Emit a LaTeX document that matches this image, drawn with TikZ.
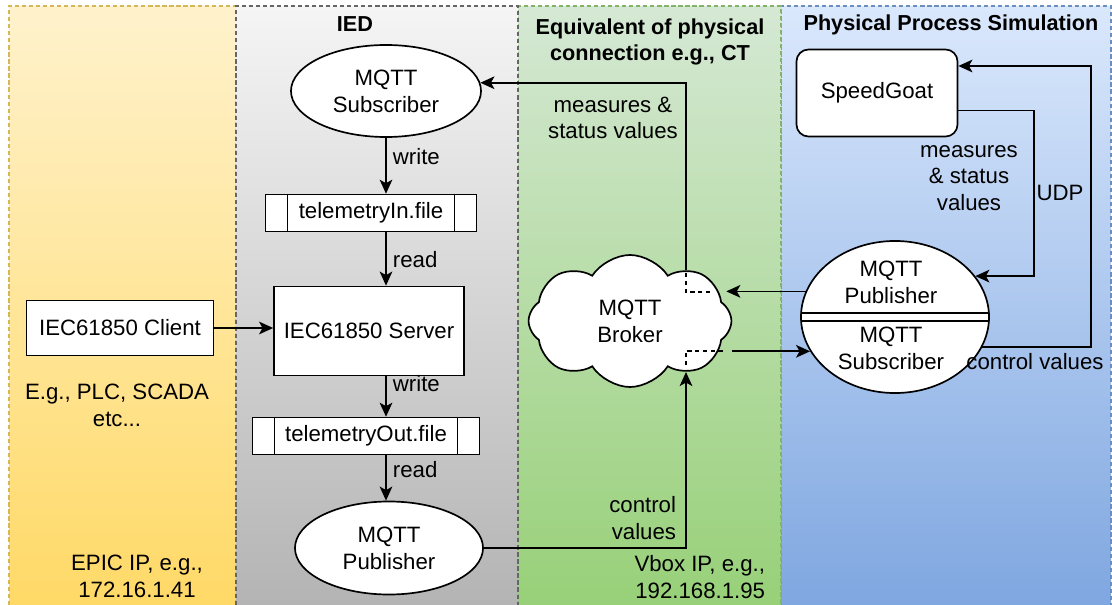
\documentclass[tikz,border=0pt]{standalone}
\usepackage{fontspec}
\setmainfont{Liberation Sans}
\usetikzlibrary{shapes.geometric,shapes.symbols,arrows.meta}
\definecolor{yelT}{HTML}{FFF2CC}
\definecolor{yelB}{HTML}{FFD966}
\definecolor{yelD}{HTML}{D6B656}
\definecolor{gryT}{HTML}{F5F5F5}
\definecolor{gryB}{HTML}{B3B3B3}
\definecolor{gryD}{HTML}{666666}
\definecolor{grnT}{HTML}{D5E8D4}
\definecolor{grnB}{HTML}{97D077}
\definecolor{grnD}{HTML}{82B366}
\definecolor{bluT}{HTML}{DAE8FC}
\definecolor{bluB}{HTML}{7EA6E0}
\definecolor{bluD}{HTML}{6C8EBF}

\begin{document}
\begin{tikzpicture}[x=0.025cm,y=-0.025cm,font=\fontsize{15.8}{19}\selectfont,
  hdr/.style={font=\fontsize{15.4}{19}\selectfont\bfseries,align=center},
  box/.style={draw,fill=white,line width=1.2pt,align=center},
  oval/.style={box,ellipse,inner sep=0pt},
  filebox/.style={box,inner sep=0pt,minimum height=0.92cm,path picture={
    \draw[line width=1.2pt] ([xshift=0.55cm]path picture bounding box.north west) -- ([xshift=0.55cm]path picture bounding box.south west)
      ([xshift=-0.55cm]path picture bounding box.north east) -- ([xshift=-0.55cm]path picture bounding box.south east);}},
  lnk/.style={line width=1.2pt,-{Stealth[length=10pt,width=9pt,inset=2.5pt]}},
  hid/.style={line width=1.2pt,dash pattern=on 3pt off 2.5pt}]
\clip (0,0) rectangle (1112,605);
\foreach \xa/\xb/\ct/\cb/\cd in {9/236/yelT/yelB/yelD,781/1111/bluT/bluB/bluD,518/781/grnT/grnB/grnD,236/518/gryT/gryB/gryD} {
  \shade[top color=\ct,bottom color=\cb] (\xa,6) rectangle (\xb,612);
  \draw[\cd,line width=0.8pt,dash pattern=on 3pt off 2pt] (\xa,612) -- (\xa,6) -- (\xb,6) -- (\xb,612);
}
\node[hdr] (ied) at (355,24) {IED};
\node[hdr] (eqv) at (650,42) {Equivalent of physical\\connection e.g., CT};
\node[hdr] (pps) at (951,25) {Physical Process Simulation};

\node[box,minimum width=4.675cm,minimum height=1.375cm] (cli) at (120,328) {IEC61850 Client};
\node[align=center] (plc) at (117,405) {E.g., PLC, SCADA\\etc...};
\node[align=center] (epic) at (137,576) {EPIC IP, e.g.,\\172.16.1.41};

\node[oval,minimum width=4.75cm,minimum height=2.3cm] (sub) at (386,91) {MQTT\\Subscriber};
\node[filebox,minimum width=5.275cm] (fin) at (371,213) {telemetryIn.file};
\node[box,minimum width=4.75cm,minimum height=2.225cm] (srv) at (369,331) {IEC61850 Server};
\node[filebox,minimum width=5.675cm] (fout) at (366,436) {telemetryOut.file};
\node[oval,minimum width=4.7cm,minimum height=2.325cm] (bpub) at (389,548) {MQTT\\Publisher};

\node[cloud,cloud puffs=8,cloud puff arc=115,aspect=1.55,box,inner sep=0pt,minimum width=5.07cm,minimum height=3.3cm] (brk) at (630,321) {MQTT\\Broker};
\node[align=center] (msv) at (613,118) {measures \&\\status values};
\node[align=right,anchor=east] (ctl) at (681,518) {control\\values};
\node[align=right,anchor=east] (vbox) at (770,577) {Vbox IP, e.g.,\\192.168.1.95};

\node[box,rounded corners=0.3cm,minimum width=4.025cm,minimum height=2.175cm] (sg) at (877,93) {SpeedGoat};
\node[oval,minimum width=4.7cm,minimum height=3.8cm,path picture={
  \draw[line width=1.2pt] ([yshift=0.1cm]path picture bounding box.west) -- ([yshift=0.1cm]path picture bounding box.east)
    ([yshift=-0.1cm]path picture bounding box.west) -- ([yshift=-0.1cm]path picture bounding box.east);}] (rmq) at (895,317) {};
\node[align=center] (rpubt) at (891,282) {MQTT\\Publisher};
\node[align=center] (rsubt) at (891,348) {MQTT\\Subscriber};
\node[align=center] (msv2) at (969,178) {measures\\\& status\\values};
\node (udp) at (1060,193) {UDP};
\node (cv) at (1035,362) {control values};

\coordinate (tk) at (686,268);
\coordinate (tin) at (710,292);
\coordinate (bk) at (686,372);
\coordinate (bin) at (686,365);
\coordinate (bout) at (723,351);
\coordinate (mr) at (1034,111);
\coordinate (cr) at (1091,66);

\draw[lnk] (cli.east) -- (cli.east -| srv.west);
\draw[lnk] (sub) -- (sub |- fin.north) node[pos=.34,right=1pt] {write};
\draw[lnk] (sub |- fin.south) -- (sub |- srv.north) node[pos=.52,right=1pt] {read};
\draw[lnk] (sub |- srv.south) -- (sub |- fout.north) node[pos=.19,right=1pt] {write};
\draw[lnk] (sub |- fout.south) -- (sub |- bpub.north) node[pos=.32,right=1pt] {read};

\draw[hid] (tin) -| (tk);
\draw[lnk] (tk) |- (sub.5);
\draw[lnk] (bpub) -| (bk);
\draw[hid] (bin) |- (bout);
\draw[lnk] (brk.east |- rmq.202) -- (rmq.202);
\draw[lnk] (rmq.164) -- ([xshift=-0.15cm]rmq.164 -| brk.east);
\draw[lnk] ([yshift=-0.44cm]sg.east) -| (mr |- rmq.27) -- (rmq.27);
\draw[lnk] (rmq.-19) -| (cr) -- (cr -| sg.east);
\end{tikzpicture}
\end{document}
